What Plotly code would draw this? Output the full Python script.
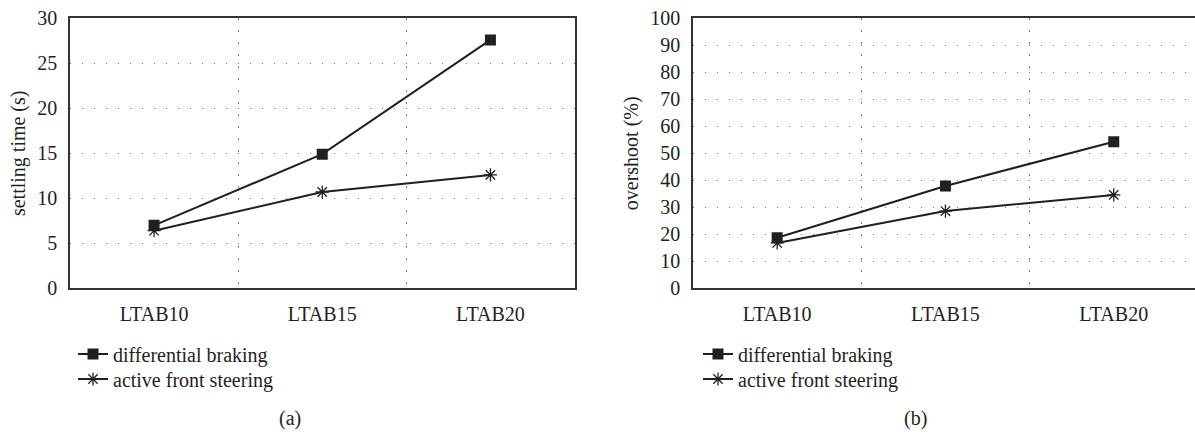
import plotly.graph_objects as go

categories = ["LTAB10", "LTAB15", "LTAB20"]
series_names = ["differential braking", "active front steering"]
settling_db = [7.0, 14.9, 27.6]
settling_afs = [6.4, 10.7, 12.6]
overshoot_db = [18.7, 37.9, 54.3]
overshoot_afs = [16.8, 28.6, 34.6]

INK = "#231f20"
GRID = "#7a7a7a"
FONT = "'Liberation Serif', 'DejaVu Serif', serif"
W, H = 1195, 432
xi = list(range(len(categories)))

fig = go.Figure()


def add_pair(xa, ya, legs, db, afs):
    fig.add_trace(go.Scatter(
        x=xi, y=db, mode="lines+markers", name=series_names[0],
        line=dict(color=INK, width=2),
        marker=dict(symbol="square", size=11, color=INK),
        xaxis=xa, yaxis=ya, legend=legs[0]))
    fig.add_trace(go.Scatter(
        x=xi, y=afs, mode="lines+markers", name=series_names[1],
        line=dict(color=INK, width=2),
        marker=dict(symbol="asterisk-open", size=11, color=INK,
                    line=dict(color=INK, width=1.3)),
        xaxis=xa, yaxis=ya, legend=legs[1]))


add_pair("x", "y", ("legend", "legend2"), settling_db, settling_afs)
add_pair("x2", "y2", ("legend3", "legend4"), overshoot_db, overshoot_afs)

ytop = 1 - 18.3 / H
ybot = 1 - 288.3 / H
font = dict(family=FONT, size=20, color=INK)
griddash = "1.2px,10.8px"


def xaxis_cfg(domain, rng, anchor):
    return dict(
        domain=domain, range=rng, tickmode="array", tickvals=xi,
        ticktext=categories, showgrid=False, zeroline=False,
        showline=True, linecolor="#333333", linewidth=1.5, mirror=True,
        ticks="", ticklabelstandoff=7, tickfont=font, anchor=anchor,
        minor=dict(tickmode="array", tickvals=[0.5, 1.5], showgrid=True,
                   gridcolor=GRID, gridwidth=1.2, griddash=griddash, ticks=""),
    )


def yaxis_cfg(rng, dtick, title, mirror, anchor):
    return dict(
        domain=[ybot, ytop], range=rng, dtick=dtick, tick0=0,
        showgrid=True, gridcolor=GRID, gridwidth=1.2, griddash=griddash,
        zeroline=False, showline=True, linecolor="#333333", linewidth=1.5,
        mirror=mirror, ticks="", ticklabelstandoff=7, tickfont=font,
        title=dict(text=title, font=font, standoff=6), automargin=False,
        anchor=anchor,
    )


def legend_cfg(x_px, y_px):
    return dict(x=x_px / W, y=1 - y_px / H, xanchor="left", yanchor="middle",
                font=font, bgcolor="rgba(0,0,0,0)", borderwidth=0)


fig.update_layout(
    width=W, height=H, margin=dict(l=0, r=0, t=0, b=0),
    paper_bgcolor="white", plot_bgcolor="white", font=font,
    xaxis=xaxis_cfg([70 / W, 574.5 / W], [-0.5, 2.5], "y"),
    yaxis=yaxis_cfg([0, 30], 5, "settling time (s)", True, "x"),
    xaxis2=xaxis_cfg([693 / W, 1.0], [-0.5, -0.5 + 502 / 168.3], "y2"),
    yaxis2=yaxis_cfg([0, 100], 10, "overshoot (%)", False, "x2"),
    legend=legend_cfg(73, 354),
    legend2=legend_cfg(73, 379),
    legend3=legend_cfg(698, 354),
    legend4=legend_cfg(698, 379),
    showlegend=True,
    annotations=[
        dict(text="(a)", x=290 / W, y=1 - 418 / H, xref="paper", yref="paper",
             showarrow=False, font=font, xanchor="center", yanchor="middle"),
        dict(text="(b)", x=915 / W, y=1 - 418 / H, xref="paper", yref="paper",
             showarrow=False, font=font, xanchor="center", yanchor="middle"),
    ],
)

fig.write_html("out.html")
